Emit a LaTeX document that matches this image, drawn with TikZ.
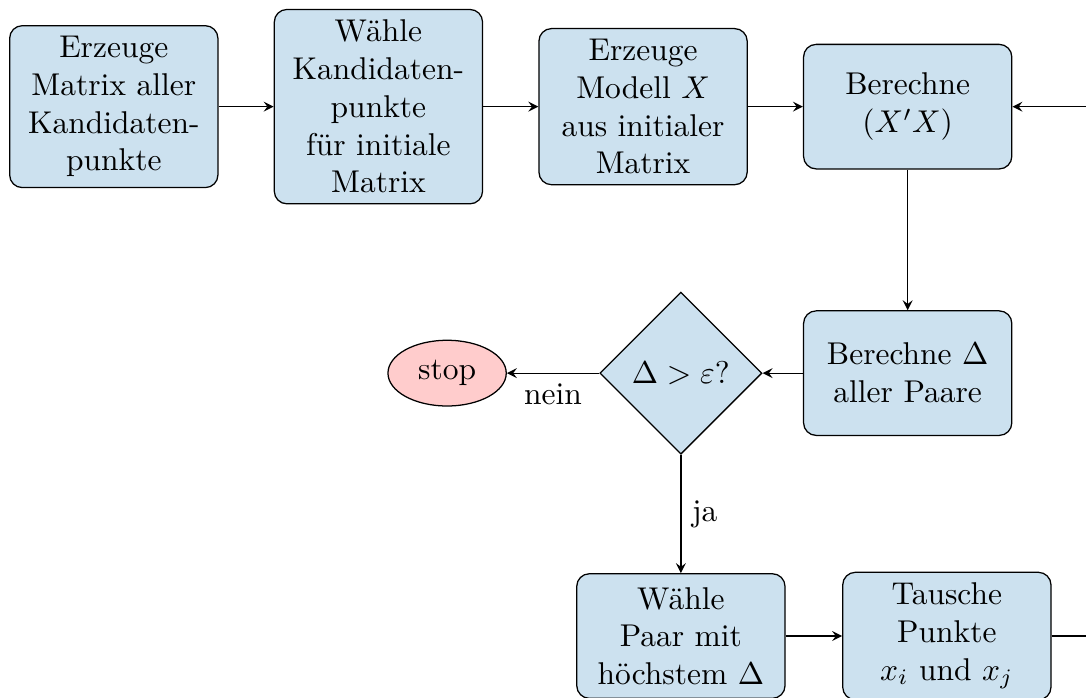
\documentclass[tikz,border=0pt]{standalone}
\usepackage{amsmath}
\usepackage{tikz}
\usepackage{xcolor}
\usetikzlibrary{arrows,positioning,calc,shapes.geometric}
\definecolor{boxblue}{RGB}{204,225,239}

\begin{document}
\begin{tikzpicture}[node distance=0.615cm,
blk/.style={rectangle,rounded corners,draw,fill=boxblue,text width=2.09cm,align=center,minimum height=1.39cm},
dec/.style={diamond,draw,fill=boxblue,aspect=1,minimum width=1.81cm,minimum height=1.81cm,inner sep=0pt},
term/.style={ellipse,draw,fill=red!20,minimum width=1.32cm,minimum height=0.66cm}]

\useasboundingbox (0,0) rectangle (12.12,-7.78);
\clip (0,0) rectangle (12.12,-7.78);

\node[blk] (1) at (1.27,-1.19) {Erzeuge\\Matrix aller\\Kandidaten-\\punkte};
\node[blk, right=of 1] (2) {Wähle\\Kandidaten-\\punkte\\für initiale\\Matrix};
\node[blk, right=of 2] (3) {Erzeuge\\Modell $X$\\aus initialer\\Matrix};
\node[blk, right=of 3] (4) {Berechne\\$(X'X)$};
\node[blk, below=1.57cm of 4] (5) {Berechne $\Delta$\\aller Paare};
\node[dec, left=0.45cm of 5] (6) {$\Delta > \varepsilon?$};
\node[term, left=1.03cm of 6] (7) {stop};
\node[blk, below=1.32cm of 6] (8) {Wähle\\Paar mit\\höchstem $\Delta$};
\node[blk, right=0.63cm of 8] (9) {Tausche\\Punkte\\$x_i$ und $x_j$};
\coordinate[right=0.6cm of 9] (R);

\draw [-stealth] (1) -- (2);
\draw [-stealth] (2) -- (3);
\draw [-stealth] (3) -- (4);
\draw [-stealth] (4) -- (5);
\draw [-stealth] (5) -- (6);
\draw [-stealth] (6) -- node[below]{nein} (7);
\draw [-stealth] (6) -- node[right]{ja} (8);
\draw [-stealth] (8) -- (9);
\draw [-stealth] (9) -- (R) |- (4);
\end{tikzpicture}
\end{document}
